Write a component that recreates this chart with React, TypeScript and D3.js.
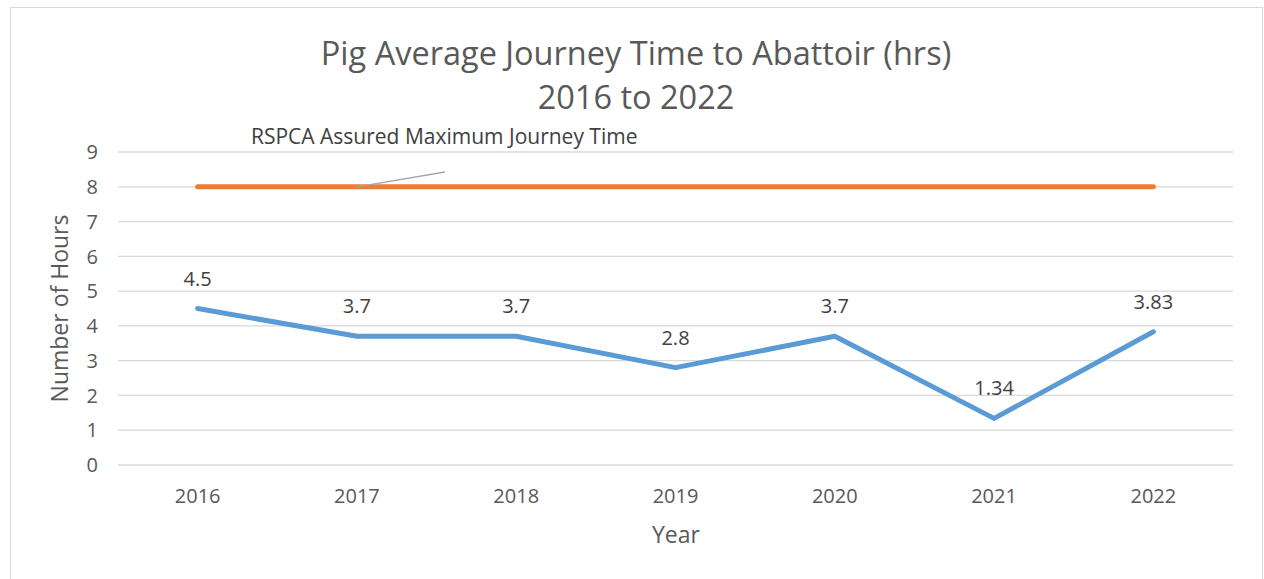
import React from "react";
import * as d3 from "d3";

const years = ["2016", "2017", "2018", "2019", "2020", "2021", "2022"];
const journeyHours = [4.5, 3.7, 3.7, 2.8, 3.7, 1.34, 3.83];
const maxJourney = [8, 8, 8, 8, 8, 8, 8];
const yTicks = [0, 1, 2, 3, 4, 5, 6, 7, 8, 9];
const titleLines = ["Pig Average Journey Time to Abattoir (hrs)", "2016 to 2022"];

const W = 1264;
const H = 579;
const font = "'Open Sans', 'Noto Sans', sans-serif";
const grey = "#595959";

export default function App() {
  const left = 118;
  const right = 1233;
  const top = 152;
  const bottom = 465;

  const x = d3.scalePoint<string>().domain(years).range([left, right]).padding(0.5);
  const y = d3.scaleLinear().domain([0, 9]).range([bottom, top]);

  const line = d3
    .line<number>()
    .x((_, i) => x(years[i]) as number)
    .y((d) => y(d));

  return (
    <svg
      width={W}
      height={H}
      style={{ position: "absolute", left: 0, top: 0, background: "#fff" }}
      fontFamily={font}
    >
      <rect x={10.5} y={7.5} width={1252} height={H + 10} fill="#fff" stroke="#d9d9d9" strokeWidth={1} />

      {titleLines.map((t, i) => (
        <text key={t} x={636} y={65 + i * 44} textAnchor="middle" fontSize={32.5} fill={grey}>
          {t}
        </text>
      ))}

      {yTicks.map((t) => (
        <g key={t}>
          <line x1={left} x2={right} y1={y(t)} y2={y(t)} stroke="#d9d9d9" strokeWidth={1.3} />
          <text x={98} y={y(t)} dy="0.36em" textAnchor="end" fontSize={20} fill={grey}>
            {t}
          </text>
        </g>
      ))}

      {years.map((yr) => (
        <text key={yr} x={x(yr)} y={503} textAnchor="middle" fontSize={20} fill={grey}>
          {yr}
        </text>
      ))}

      <text x={676} y={543} textAnchor="middle" fontSize={23} fill={grey}>
        Year
      </text>
      <text
        transform={`translate(68,${(top + bottom) / 2}) rotate(-90)`}
        textAnchor="middle"
        fontSize={23}
        fill={grey}
      >
        Number of Hours
      </text>

      <path d={line(maxJourney) ?? ""} fill="none" stroke="#ed7d31" strokeWidth={5} strokeLinecap="round" />
      <path
        d={line(journeyHours) ?? ""}
        fill="none"
        stroke="#5b9bd5"
        strokeWidth={5}
        strokeLinecap="round"
        strokeLinejoin="round"
      />

      {journeyHours.map((v, i) => (
        <text key={i} x={x(years[i])} y={y(v) - 23} textAnchor="middle" fontSize={20} fill="#404040">
          {v}
        </text>
      ))}

      <line x1={x(years[1])} y1={y(8)} x2={445} y2={172} stroke="#a6a6a6" strokeWidth={1.3} />
      <text x={251} y={144} fontSize={21} fill="#404040">
        RSPCA Assured Maximum Journey Time
      </text>
    </svg>
  );
}
